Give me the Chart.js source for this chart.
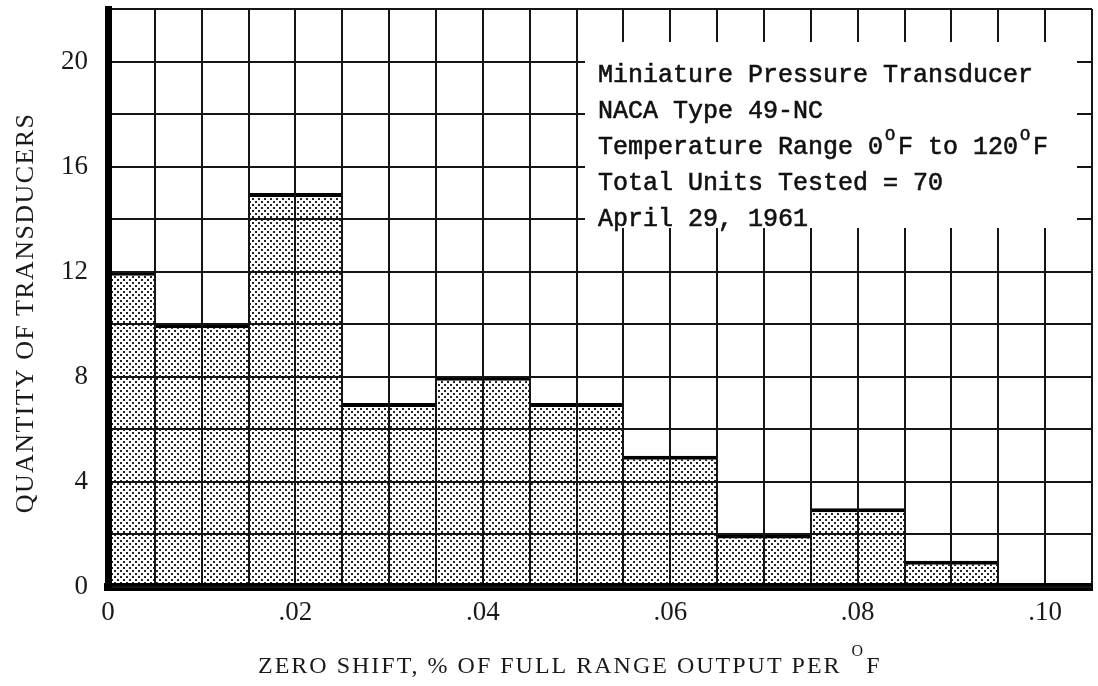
<!DOCTYPE html>
<html>
<head>
<meta charset="utf-8">
<script src="https://cdn.jsdelivr.net/npm/chart.js@4"></script>
<style>
html,body{margin:0;padding:0;background:#fff;}
#c{display:block;}
</style>
</head>
<body>
<canvas id="c" width="1098" height="686"></canvas>
<script>
// ---- data ----
const binCenters = [0, 0.01, 0.02, 0.03, 0.04, 0.05, 0.06, 0.07, 0.08, 0.09, 0.10];
const counts     = [12, 10, 15, 7, 8, 7, 5, 2, 3, 1, 0];
const xTickValues = [0, 0.02, 0.04, 0.06, 0.08, 0.10];
const xTickLabels = ['0', '.02', '.04', '.06', '.08', '.10'];
const yTickValues = [0, 4, 8, 12, 16, 20];
const yTickLabels = ['0', '4', '8', '12', '16', '20'];
const xTitleParts = ['ZERO SHIFT, % OF FULL RANGE OUTPUT PER ', 'O', 'F'];
const yTitle = 'QUANTITY OF TRANSDUCERS';
const noteLines = [
  [['Miniature Pressure Transducer', 0]],
  [['NACA Type 49-NC', 0]],
  [['Temperature Range 0', 0], ['O', 1], ['F to 120', 0], ['O', 1], ['F', 0]],
  [['Total Units Tested = 70', 0]],
  [['April 29, 1961', 0]]
];
const xMin = 0, xMax = 0.105, xGridStep = 0.005;
const yMin = 0, yMax = 22, yGridStep = 2;

// grid tick positions (axis scaffolding only)
const xGrid = [];
for (let i = 0; i <= Math.round((xMax - xMin) / xGridStep); i++) xGrid.push(+(xMin + i * xGridStep).toFixed(4));
const yGrid = [];
for (let v = yMin; v <= yMax; v += yGridStep) yGrid.push(v);

function lookup(vals, labels, v) {
  const i = vals.findIndex(t => Math.abs(t - v) < 1e-9);
  return i >= 0 ? labels[i] : '';
}

const canvas = document.getElementById('c');
const mainCtx = canvas.getContext('2d');

// stipple pattern for bars
const pc = document.createElement('canvas');
pc.width = 6; pc.height = 6;
const pctx = pc.getContext('2d');
pctx.fillStyle = '#ffffff'; pctx.fillRect(0, 0, 6, 6);
pctx.fillStyle = '#262626';
pctx.fillRect(0, 0, 2, 2);
pctx.fillRect(3, 3, 2, 2);
const stipple = mainCtx.createPattern(pc, 'repeat');

const annotationPlugin = {
  id: 'annot',
  afterDraw(chart) {
    const ctx = chart.ctx;
    ctx.save();
    // note box (white, covering grid)
    ctx.fillStyle = '#ffffff';
    ctx.fillRect(585, 42, 492, 186);
    // note text
    ctx.fillStyle = '#111';
    ctx.strokeStyle = '#111';
    ctx.lineWidth = 0.6;
    ctx.textAlign = 'left';
    ctx.textBaseline = 'alphabetic';
    const mono = '"Liberation Mono", monospace';
    let base = 82;
    noteLines.forEach(line => {
      let x = 598;
      line.forEach(([txt, sup]) => {
        if (sup) {
          ctx.font = '17px ' + mono;
          ctx.fillText(txt, x + 2, base - 14);
          ctx.strokeText(txt, x + 2, base - 14);
          x += 15;
        } else {
          ctx.font = '25px ' + mono;
          ctx.fillText(txt, x, base);
          ctx.strokeText(txt, x, base);
          x += ctx.measureText(txt).width;
        }
      });
      base += 36;
    });
    // x title
    const serif = '"Liberation Serif", serif';
    ctx.fillStyle = '#1a1a1a';
    ctx.font = '24px ' + serif;
    ctx.letterSpacing = '2px';
    let tx = 258;
    ctx.fillText(xTitleParts[0], tx, 673);
    tx += ctx.measureText(xTitleParts[0]).width;
    ctx.font = '16px ' + serif;
    ctx.fillText(xTitleParts[1], tx + 2, 656);
    tx += ctx.measureText(xTitleParts[1]).width + 3;
    ctx.font = '24px ' + serif;
    ctx.fillText(xTitleParts[2], tx, 673);
    // y title
    ctx.translate(33, 313);
    ctx.rotate(-Math.PI / 2);
    ctx.font = '26px ' + serif;
    ctx.letterSpacing = '1.4px';
    ctx.textAlign = 'center';
    ctx.fillText(yTitle, 0, 0);
    ctx.restore();
  }
};

const tickFont = { family: '"Liberation Serif", serif', size: 27 };

new Chart(canvas, {
  type: 'bar',
  data: {
    datasets: [{
      data: binCenters.map((x, i) => ({ x: x, y: counts[i] })),
      backgroundColor: stipple,
      borderColor: '#000',
      borderWidth: { top: 4, left: 0, right: 0, bottom: 0 },
      borderSkipped: false,
      // ruler spacing follows the 0.005 grid ticks; bins are 0.01 wide
      barPercentage: 2,
      categoryPercentage: 1
    }]
  },
  options: {
    responsive: false,
    animation: false,
    devicePixelRatio: 1,
    layout: { padding: { top: 9, right: 6, left: 0, bottom: 0 } },
    plugins: { legend: { display: false }, tooltip: { enabled: false } },
    scales: {
      x: {
        type: 'linear',
        min: xMin, max: xMax,
        offset: false,
        afterBuildTicks: s => { s.ticks = xGrid.map(v => ({ value: v })); },
        afterFit: s => { s.height = 99; s.paddingLeft = 0; s.paddingRight = 0; },
        grid: { color: '#151515', lineWidth: 2, drawTicks: false, offset: false, z: 1 },
        border: { color: '#000', width: 8, z: 1 },
        ticks: {
          autoSkip: false, maxRotation: 0, minRotation: 0, padding: 10,
          color: '#1a1a1a', font: tickFont,
          callback: v => lookup(xTickValues, xTickLabels, v)
        }
      },
      y: {
        min: yMin, max: yMax,
        afterBuildTicks: s => { s.ticks = yGrid.map(v => ({ value: v })); },
        afterFit: s => { s.width = 108; s.paddingTop = 0; s.paddingBottom = 0; },
        grid: { color: '#151515', lineWidth: 2, drawTicks: false, offset: false, z: 1 },
        border: { color: '#000', width: 7, z: 1 },
        ticks: {
          autoSkip: false, padding: 20,
          color: '#1a1a1a', font: tickFont,
          callback: v => lookup(yTickValues, yTickLabels, v)
        }
      }
    }
  },
  plugins: [annotationPlugin]
});
</script>
</body>
</html>
